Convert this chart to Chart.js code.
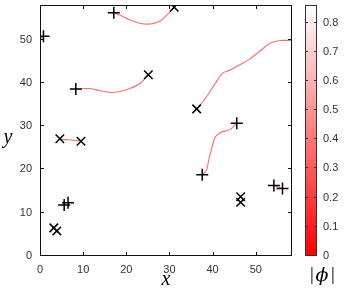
<!DOCTYPE html>
<html>
<head>
<meta charset="utf-8">
<script src="https://cdn.jsdelivr.net/npm/chart.js@4.4.1/dist/chart.umd.min.js"></script>
<style>
  html, body { margin: 0; padding: 0; background: #fff; }
  #wrap { width: 346px; height: 292px; }
</style>
</head>
<body>
<div id="wrap"><canvas id="myChart"></canvas></div>
<script>
// tick labels
const xTicks = [0, 10, 20, 30, 40, 50];
const yTicks = [0, 10, 20, 30, 40, 50];
const cbTicks = [0, 0.1, 0.2, 0.3, 0.4, 0.5, 0.6, 0.7, 0.8];

// vortex positions, "+" and "x"
const plusX = [0.8, 17.1, 8.3, 45.6, 37.6, 54.2, 56.2, 5.6, 6.5];
const plusY = [50.8, 56.2, 38.6, 30.7, 18.75, 16.3, 15.6, 11.8, 12.3];
const crossX = [31.1, 25.1, 4.6, 9.5, 36.3, 3.2, 3.9, 46.5, 46.5];
const crossY = [57.5, 41.9, 27.1, 26.5, 34.0, 6.5, 5.8, 13.7, 12.4];

// red lines between vortices
const lineAx = [17.1, 18.5, 20.8, 23.1, 25.5, 27.8, 29.3, 30.5, 31.1];
const lineAy = [56.2, 55.7, 54.6, 53.8, 53.6, 54.3, 55.6, 56.8, 57.5];
const lineBx = [8.3, 11.6, 13.9, 16.2, 18.5, 20.8, 23.1, 25.1];
const lineBy = [38.6, 38.7, 38.2, 37.8, 38.0, 38.7, 39.8, 41.9];
const lineCx = [4.6, 7.0, 9.5];
const lineCy = [27.0, 26.8, 26.6];
const lineDx = [36.3, 37.8, 39.4, 40.9, 42.4, 44.0, 46.3, 48.6, 50.9, 53.2, 55.6, 57.9, 58.4];
const lineDy = [34.0, 35.7, 38.0, 40.3, 42.3, 42.9, 44.2, 45.5, 47.3, 49.1, 49.8, 49.8, 49.8];
const lineEx = [0, 0.8];
const lineEy = [50.0, 50.8];
const lineFx = [45.6, 44.0, 41.7, 40.5, 39.7, 39.1, 38.6, 37.6];
const lineFy = [30.7, 29.2, 28.5, 27.2, 24.5, 22.2, 19.9, 18.75];
const lineGx = [54.2, 56.2];
const lineGy = [16.3, 15.6];

const pts = (xs, ys) => xs.map((x, i) => ({ x: x, y: ys[i] }));

const tickFont = { family: 'Liberation Sans', size: 11 };
const tickColor = '#333';

function lineSet(xs, ys) {
  return {
    data: pts(xs, ys),
    showLine: true,
    borderColor: 'rgba(255, 80, 80, 0.85)',
    borderWidth: 1.1,
    tension: 0.25,
    pointRadius: 0,
    pointHoverRadius: 0
  };
}

function noPad(s) {
  s.paddingTop = 0; s.paddingBottom = 0; s.paddingLeft = 0; s.paddingRight = 0;
}

const frame = {
  id: 'frame',
  afterDraw(chart) {
    const c = chart.ctx;
    const a = chart.chartArea;
    const sx = chart.scales.x, sy = chart.scales.y, cb = chart.scales.cb;
    c.save();
    c.strokeStyle = '#111';
    c.lineWidth = 1;
    c.strokeRect(a.left + 0.5, a.top + 0.5, a.right - a.left - 1, a.bottom - a.top - 1);
    // inward ticks
    c.beginPath();
    xTicks.forEach(v => {
      const p = Math.round(sx.getPixelForValue(v)) + 0.5;
      c.moveTo(p, a.bottom); c.lineTo(p, a.bottom - 4);
      c.moveTo(p, a.top); c.lineTo(p, a.top + 4);
    });
    yTicks.forEach(v => {
      const p = Math.round(sy.getPixelForValue(v)) - 0.5;
      c.moveTo(a.left, p); c.lineTo(a.left + 4, p);
      c.moveTo(a.right, p); c.lineTo(a.right - 4, p);
    });
    c.stroke();

    // colour bar
    const bx0 = 305, bx1 = 317;
    const top = cb.getPixelForValue(cb.max), bot = cb.getPixelForValue(0);
    const g = c.createLinearGradient(0, bot, 0, top);
    g.addColorStop(0, 'rgb(255,0,0)');
    g.addColorStop(1, 'rgb(255,255,255)');
    c.fillStyle = g;
    c.fillRect(bx0, top, bx1 - bx0, bot - top);
    c.strokeStyle = '#333';
    c.strokeRect(bx0 + 0.5, top + 0.5, bx1 - bx0 - 1, bot - top - 1);
    c.beginPath();
    cbTicks.forEach(v => {
      const p = Math.round(cb.getPixelForValue(v)) - 0.5;
      c.moveTo(bx0, p); c.lineTo(bx0 + 3, p);
      c.moveTo(bx1, p); c.lineTo(bx1 - 3, p);
    });
    c.stroke();

    // axis symbol labels
    c.fillStyle = '#000';
    c.textAlign = 'center';
    c.textBaseline = 'middle';
    c.font = 'italic 20px "Liberation Serif"';
    c.fillText('y', 8, 138);
    c.font = 'italic 19px "DejaVu Serif"';
    c.fillText('\u03d5', 322, 276);
    c.font = '19px "Liberation Serif"';
    c.fillText('|', 312, 275);
    c.fillText('|', 333, 275);
    c.restore();
  }
};

new Chart(document.getElementById('myChart'), {
  type: 'scatter',
  data: {
    datasets: [
      { data: pts(plusX, plusY), pointStyle: 'cross', pointRadius: 6, borderColor: '#000', borderWidth: 1.5, showLine: false },
      { data: pts(crossX, crossY), pointStyle: 'crossRot', pointRadius: 6, borderColor: '#000', borderWidth: 1.5, showLine: false },
      lineSet(lineAx, lineAy),
      lineSet(lineBx, lineBy),
      lineSet(lineCx, lineCy),
      lineSet(lineDx, lineDy),
      lineSet(lineEx, lineEy),
      lineSet(lineFx, lineFy),
      lineSet(lineGx, lineGy)
    ]
  },
  options: {
    responsive: true,
    maintainAspectRatio: false,
    animation: false,
    layout: { padding: { top: 5, left: 0, right: 0, bottom: 0 }, autoPadding: false },
    plugins: { legend: { display: false }, tooltip: { enabled: false } },
    scales: {
      x: {
        type: 'linear', position: 'bottom', min: 0, max: 58.4,
        afterBuildTicks: s => { s.ticks = xTicks.map(v => ({ value: v })); },
        afterFit: s => { s.height = 36; noPad(s); },
        grid: { display: false, drawTicks: false },
        border: { display: false },
        ticks: { font: tickFont, color: tickColor, padding: 7, maxRotation: 0 },
        title: { display: true, text: 'x', color: '#000', padding: 0,
                 font: { family: 'Liberation Serif', style: 'italic', size: 20 } }
      },
      y: {
        type: 'linear', position: 'left', min: 0, max: 58,
        afterBuildTicks: s => { s.ticks = yTicks.map(v => ({ value: v })); },
        afterFit: s => { s.width = 40; noPad(s); },
        grid: { display: false, drawTicks: false },
        border: { display: false },
        ticks: { font: tickFont, color: tickColor, padding: 8 }
      },
      cb: {
        type: 'linear', position: 'right', min: 0, max: 0.86,
        afterBuildTicks: s => { s.ticks = cbTicks.map(v => ({ value: v })); },
        afterFit: s => { s.width = 54; noPad(s); },
        grid: { display: false, drawTicks: false },
        border: { display: false },
        ticks: { font: tickFont, color: tickColor, padding: 31 }
      }
    }
  },
  plugins: [frame]
});
</script>
</body>
</html>
